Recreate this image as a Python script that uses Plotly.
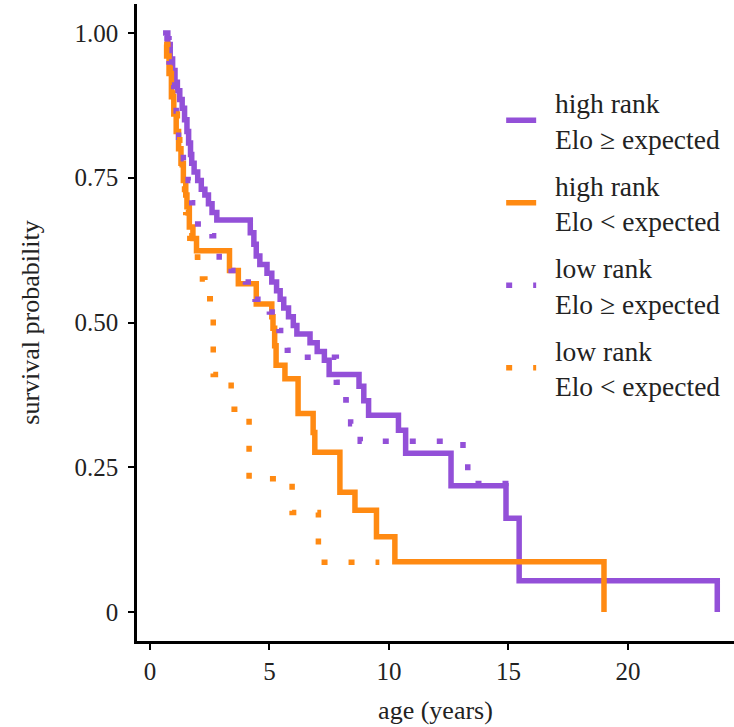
import plotly.graph_objects as go

# ---- data (Kaplan-Meier step curves) ----
hi_ge_t = [0.55, 0.75, 0.85, 0.95, 1.05, 1.15, 1.25, 1.35, 1.45, 1.55, 1.62, 1.7, 1.75, 1.85, 2.0, 2.15,
           2.3, 2.45, 2.6, 2.8, 4.2, 4.35, 4.45, 4.6, 4.9, 5.1, 5.3, 5.45, 5.6, 5.8, 6.0, 6.15, 6.7,
           7.0, 7.3, 7.5, 8.75, 8.95, 9.15, 10.4, 10.7, 12.6, 14.9, 15.45, 23.74]
hi_ge_s = [1.0, 0.98, 0.955, 0.935, 0.915, 0.90, 0.885, 0.87, 0.85, 0.83, 0.81, 0.79, 0.775, 0.76, 0.745,
           0.73, 0.72, 0.705, 0.69, 0.677, 0.655, 0.635, 0.615, 0.60, 0.585, 0.57, 0.555, 0.54, 0.525,
           0.51, 0.495, 0.48, 0.465, 0.45, 0.435, 0.41, 0.39, 0.365, 0.34, 0.314, 0.274, 0.218, 0.162,
           0.054, 0.0]

hi_lt_t = [0.6, 0.7, 0.8, 0.9, 1.0, 1.1, 1.2, 1.3, 1.4, 1.5, 1.55, 1.65, 1.8, 1.95, 3.33, 3.7, 4.45,
           5.1, 5.15, 5.22, 5.28, 5.65, 6.2, 6.83, 6.9, 7.95, 8.58, 9.48, 10.25, 19.0]
hi_lt_s = [0.98, 0.96, 0.93, 0.89, 0.86, 0.83, 0.80, 0.775, 0.745, 0.72, 0.70, 0.665, 0.645, 0.624,
           0.59, 0.567, 0.532, 0.51, 0.49, 0.46, 0.426, 0.403, 0.343, 0.31, 0.276, 0.207, 0.176, 0.13,
           0.087, 0.0]

lo_ge_t = [0.6, 0.8, 0.9, 1.0, 1.1, 1.2, 1.4, 1.6, 1.75, 2.0, 2.6, 2.9, 3.4, 4.0, 4.4, 5.0, 5.4, 5.75,
           6.3, 7.8, 8.2, 8.4, 8.8, 13.1, 13.3, 15.1]
lo_ge_s = [0.99, 0.95, 0.91, 0.88, 0.85, 0.82, 0.78, 0.745, 0.707, 0.67, 0.65, 0.613, 0.59, 0.57, 0.54,
           0.518, 0.486, 0.452, 0.44, 0.397, 0.366, 0.325, 0.295, 0.26, 0.222, 0.222]

lo_lt_t = [0.6, 0.75, 0.85, 0.95, 1.05, 1.15, 1.25, 1.35, 1.45, 1.5, 1.6, 1.67, 2.0, 2.3, 2.65, 3.4,
           4.15, 5.95, 7.05, 9.6]
lo_lt_s = [0.98, 0.95, 0.92, 0.89, 0.86, 0.83, 0.79, 0.76, 0.72, 0.69, 0.65, 0.613, 0.575, 0.541, 0.41,
           0.35, 0.23, 0.172, 0.086, 0.086]

series_names = ["high rank<br>Elo ≥ expected", "high rank<br>Elo < expected",
                "low rank<br>Elo ≥ expected", "low rank<br>Elo < expected"]
x_ticks = [0, 5, 10, 15, 20]
y_ticks = [0, 0.25, 0.5, 0.75, 1.0]
y_tick_text = ["0", "0.25", "0.50", "0.75", "1.00"]

PURPLE = "#9350D8"
ORANGE = "#FF8A12"
LW = 5.5
DOT = "6px,21px"

fig = go.Figure()
specs = [
    (hi_ge_t, hi_ge_s, series_names[0], PURPLE, "solid"),
    (hi_lt_t, hi_lt_s, series_names[1], ORANGE, "solid"),
    (lo_ge_t, lo_ge_s, series_names[2], PURPLE, DOT),
    (lo_lt_t, lo_lt_s, series_names[3], ORANGE, DOT),
]
for i, (t, s, name, col, dash) in enumerate(specs):
    label = "<br>".join("\u2002" + part for part in name.split("<br>"))
    fig.add_trace(go.Scatter(x=t, y=s, name=label, mode="lines", legendgroup=f"g{i}",
                             line=dict(color=col, width=LW, dash=dash, shape="hv")))

FONT = "Liberation Serif, Times New Roman, serif"
TXT = "#222"

fig.update_layout(
    width=734, height=727,
    margin=dict(l=137, r=0, t=3.5, b=85.5, autoexpand=False),
    plot_bgcolor="white", paper_bgcolor="white",
    font=dict(family=FONT, size=25, color=TXT),
    showlegend=True,
    legend=dict(x=0.610, y=0.884, xanchor="left", yanchor="top",
                font=dict(family=FONT, size=27.5, color=TXT),
                bgcolor="rgba(0,0,0,0)", tracegroupgap=8, itemwidth=30,
                valign="middle", traceorder="grouped"),
    xaxis=dict(range=[-0.54, 24.44], tickvals=x_ticks, showgrid=False, zeroline=False,
               automargin=False,
               showline=True, linecolor="black", linewidth=2.5, ticks="outside",
               ticklen=6, tickwidth=2, tickcolor="black",
               tickfont=dict(family=FONT, size=25, color=TXT),
               title=dict(text="age (years)", font=dict(family=FONT, size=26, color=TXT),
                          standoff=18)),
    yaxis=dict(range=[-0.05, 1.05], tickvals=y_ticks, ticktext=y_tick_text, showgrid=False,
               automargin=False, ticklabelstandoff=5,
               zeroline=False, showline=True, linecolor="black", linewidth=2.5,
               ticks="outside", ticklen=6, tickwidth=2, tickcolor="black",
               tickfont=dict(family=FONT, size=25, color=TXT),
               title=dict(text="survival probability", font=dict(family=FONT, size=26, color=TXT),
                          standoff=28)),
)
fig.write_html("out.html", config={"displayModeBar": False},
               post_script="document.body.style.margin='0';")
